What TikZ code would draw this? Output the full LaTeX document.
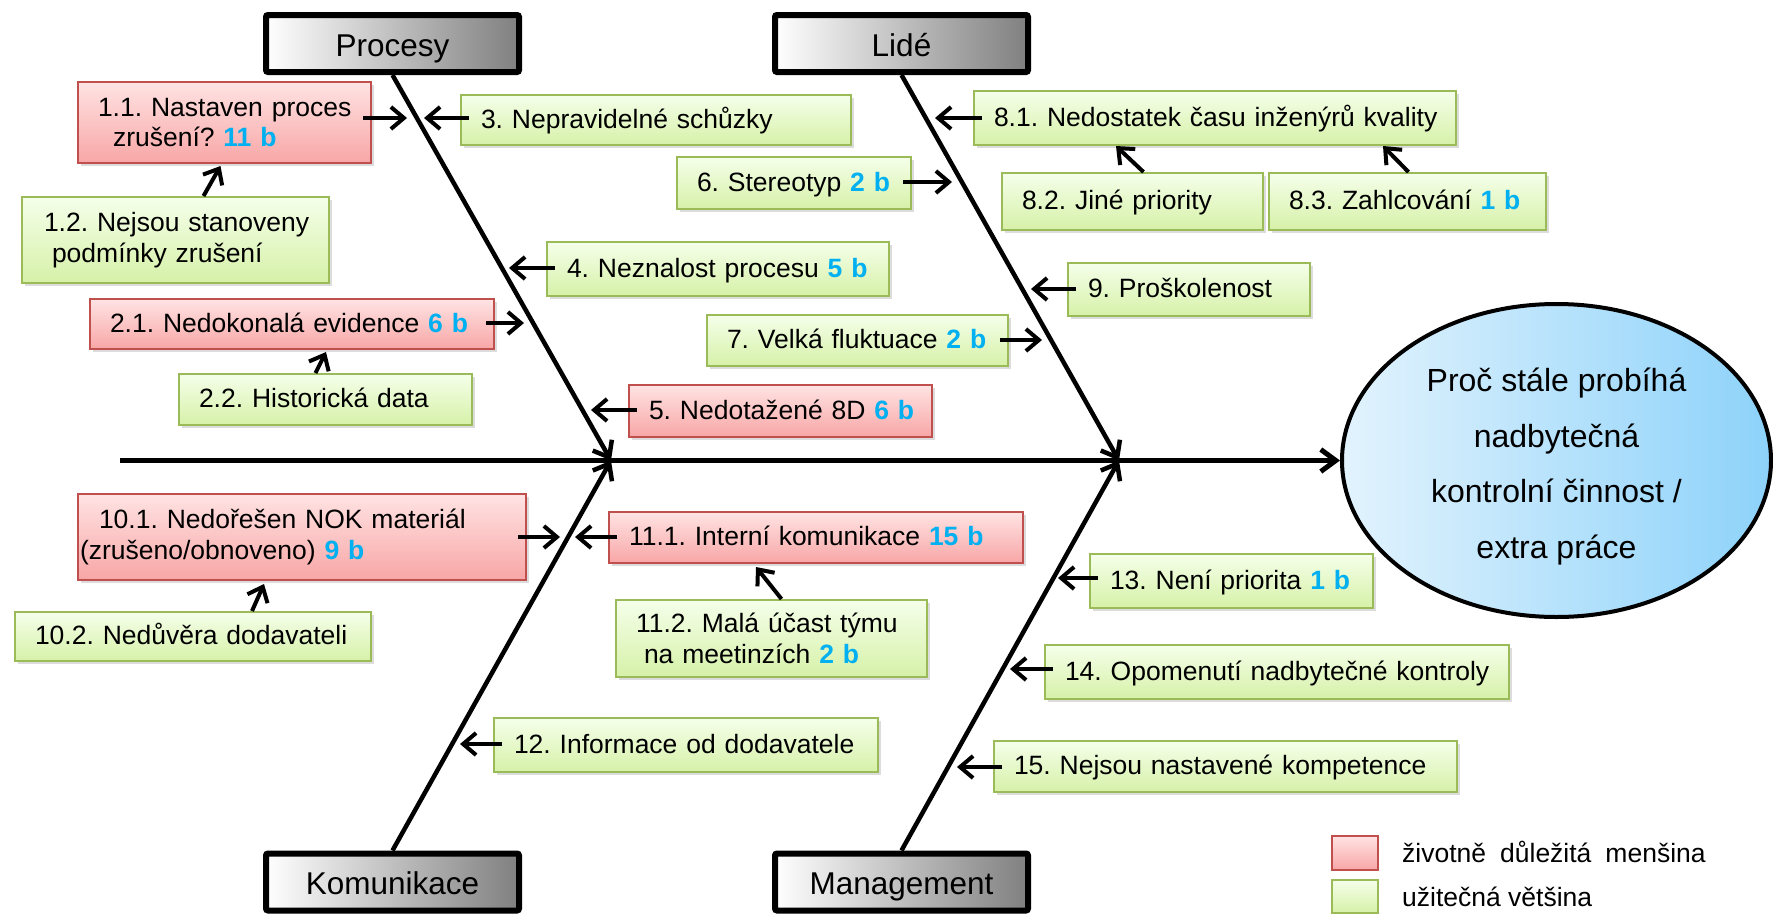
\documentclass[tikz,border=0pt]{standalone}
\usepackage{fontspec}
\setmainfont{Liberation Sans}
\usetikzlibrary{arrows.meta,shapes.geometric,shadows,calc}

\definecolor{redtop}{HTML}{FFE3E3}
\definecolor{redbot}{HTML}{F8A6A6}
\definecolor{redline}{HTML}{C0504D}
\definecolor{grntop}{HTML}{F5FFEA}
\definecolor{grnbot}{HTML}{D6F1A8}
\definecolor{grnline}{HTML}{9BBB59}
\definecolor{ptblue}{HTML}{00B0F0}
\definecolor{goalleft}{HTML}{E2F3FD}
\definecolor{goalright}{HTML}{8DD2FA}

\newcommand{\scorepts}[1]{\textcolor{ptblue}{\textbf{#1}}}
\newcommand{\causefont}{\fontsize{26.5}{30.5}\selectfont}
\frenchspacing

\begin{document}
\begin{tikzpicture}[x=1pt,y=-1pt,
  redfill/.style={draw=redline, top color=redtop, bottom color=redbot},
  greenfill/.style={draw=grnline, top color=grntop, bottom color=grnbot},
  cause/.style={anchor=north west, line width=2, inner xsep=20, inner ysep=0,
    align=left, font=\causefont,
    drop shadow={shadow xshift=2.5pt, shadow yshift=-3pt, opacity=.28}},
  oneline/.style={text height=16pt, text depth=0pt},
  critical/.style={cause, redfill},
  useful/.style={cause, greenfill},
  category/.style={draw=black, line width=6, rounded corners=2,
    left color=white, right color=black!50, minimum width=253, minimum height=57,
    inner sep=0, text height=25.5pt, text depth=0pt, font=\fontsize{31.5}{36}\selectfont,
    drop shadow={shadow xshift=2pt, shadow yshift=-2pt, opacity=.25}},
  goal/.style={ellipse, draw=black, line width=4, minimum width=429, minimum height=313,
    inner sep=0, left color=goalleft, right color=goalright},
  goaltext/.style={inner sep=0, align=center, font=\fontsize{32}{55.7}\selectfont},
  spine/.style={line width=5, -{Straight Barb[length=15pt,width=22pt]}},
  bone/.style={line width=4.5, -{Straight Barb[length=14pt,width=22pt]}},
  arr/.style={line width=4, -{Straight Barb[length=13pt,width=22pt]}},
  legendkey/.style={anchor=north west, line width=2, minimum width=46, minimum height=34, inner sep=0},
  legendtext/.style={anchor=west, inner sep=0, font=\causefont},
]
\useasboundingbox (0,0) rectangle (1773,916);

% categories
\node[category] (procesy) at (392.5,43.5) {Procesy};
\node[category] (lide) at (901.5,43.5) {Lidé};
\node[category] (komunikace) at (392.5,882) {Komunikace};
\node[category] (management) at (901.5,882) {Management};

% effect
\node[goal] (goal) at (1556.5,460.5) {};
\node[goaltext] (goaltxt) at ([yshift=-6pt]goal.center)
  {Proč stále probíhá\\nadbytečná\\kontrolní činnost /\\extra práce};

% spine and bones
\coordinate (tail) at (120,460.5);
\coordinate (j1) at (611,460.5);
\coordinate (j2) at (1119,460.5);
\draw[spine] (tail) -- (goal.west);
\draw[bone] (procesy.south) -- (j1);
\draw[bone] (lide.south) -- (j2);
\draw[bone] (komunikace.north) -- (j1);
\draw[bone] (management.north) -- (j2);

% causes: Procesy
\node[critical, minimum height=81, text width=253] (n11) at (77,81)
  {\mbox{1.1. Nastaven proces}\\\mbox{\hspace*{15pt}zrušení? \scorepts{11 b}}};
\node[useful, minimum height=86, text width=267] (n12) at (21,196)
  {\mbox{\hspace*{2pt}1.2. Nejsou stanoveny}\\\mbox{\hspace*{10pt}podmínky zrušení}};
\node[useful, oneline, minimum height=50, text width=350] (n3) at (460,94)
  {\mbox{3. Nepravidelné schůzky}};
\node[useful, oneline, minimum height=54, text width=302] (n4) at (546,241)
  {\mbox{4. Neznalost procesu \scorepts{5 b}}};
\node[critical, oneline, minimum height=50, text width=364] (n21) at (89,298)
  {\mbox{2.1. Nedokonalá evidence \scorepts{6 b}}};
\node[useful, oneline, minimum height=51, text width=253] (n22) at (178,373)
  {\mbox{2.2. Historická data}};
\node[critical, oneline, minimum height=52, text width=263] (n5) at (628,384)
  {\mbox{5. Nedotažené 8D \scorepts{6 b}}};

% causes: Lidé
\node[useful, oneline, minimum height=52, text width=194] (n6) at (676,156)
  {\mbox{6. Stereotyp \scorepts{2 b}}};
\node[useful, oneline, minimum height=51, text width=261] (n7) at (706,314)
  {\mbox{7. Velká fluktuace \scorepts{2 b}}};
\node[useful, oneline, minimum height=54, text width=442] (n81) at (973,90)
  {\mbox{8.1. Nedostatek času inženýrů kvality}};
\node[useful, oneline, minimum height=57, text width=221] (n82) at (1001,172)
  {\mbox{8.2. Jiné priority}};
\node[useful, oneline, minimum height=57, text width=237] (n83) at (1268,172)
  {\mbox{8.3. Zahlcování \scorepts{1 b}}};
\node[useful, oneline, minimum height=53, text width=202] (n9) at (1067,262)
  {\mbox{9. Proškolenost}};

% causes: Komunikace
\node[critical, minimum height=86, inner xsep=2, text width=444] (n101) at (77,493)
  {\mbox{\hspace*{19pt}10.1. Nedořešen NOK materiál}\\\mbox{(zrušeno/obnoveno) \scorepts{9 b}}};
\node[useful, oneline, minimum height=49, text width=316] (n102) at (14,611)
  {\mbox{10.2. Nedůvěra dodavateli}};
\node[critical, oneline, minimum height=51, text width=374] (n111) at (608,511)
  {\mbox{11.1. Interní komunikace \scorepts{15 b}}};
\node[useful, minimum height=77, text width=271] (n112) at (615,599)
  {\mbox{11.2. Malá účast týmu}\\\mbox{\hspace*{8pt}na meetinzích \scorepts{2 b}}};
\node[useful, oneline, minimum height=54, text width=344] (n12b) at (493,717)
  {\mbox{12. Informace od dodavatele}};

% causes: Management
\node[useful, oneline, minimum height=54, text width=243] (n13) at (1089,553)
  {\mbox{13. Není priorita \scorepts{1 b}}};
\node[useful, oneline, minimum height=54, text width=424] (n14) at (1044,644)
  {\mbox{14. Opomenutí nadbytečné kontroly}};
\node[useful, oneline, minimum height=51, text width=423] (n15) at (993,740)
  {\mbox{15. Nejsou nastavené kompetence}};

% arrow tips on the bones
\coordinate (t11) at (407,118);
\coordinate (t3) at (424,118);
\coordinate (t4) at (509,268);
\coordinate (t21) at (524,323);
\coordinate (t5) at (591,410);
\coordinate (t6) at (952,182);
\coordinate (t81) at (935,118);
\coordinate (t9) at (1031,289);
\coordinate (t7) at (1042,340);
\coordinate (t101) at (560,537);
\coordinate (t111) at (575,537);
\coordinate (t12) at (460,744);
\coordinate (t13) at (1058,578);
\coordinate (t14) at (1010,669);
\coordinate (t15) at (957,767);

\draw[arr] ($(n11.east|-t11)+(-9,0)$) -- (t11);
\draw[arr] ($(n3.west|-t3)+(9,0)$) -- (t3);
\draw[arr] ($(n4.west|-t4)+(9,0)$) -- (t4);
\draw[arr] ($(n21.east|-t21)+(-9,0)$) -- (t21);
\draw[arr] ($(n5.west|-t5)+(9,0)$) -- (t5);
\draw[arr] ($(n6.east|-t6)+(-9,0)$) -- (t6);
\draw[arr] ($(n81.west|-t81)+(9,0)$) -- (t81);
\draw[arr] ($(n9.west|-t9)+(9,0)$) -- (t9);
\draw[arr] ($(n7.east|-t7)+(-9,0)$) -- (t7);
\draw[arr] ($(n101.east|-t101)+(-9,0)$) -- (t101);
\draw[arr] ($(n111.west|-t111)+(9,0)$) -- (t111);
\draw[arr] ($(n12b.west|-t12)+(9,0)$) -- (t12);
\draw[arr] ($(n13.west|-t13)+(9,0)$) -- (t13);
\draw[arr] ($(n14.west|-t14)+(9,0)$) -- (t14);
\draw[arr] ($(n15.west|-t15)+(9,0)$) -- (t15);

% sub-causes
\draw[arr] ([xshift=28pt]n12.north) -- ([xshift=-4pt,yshift=-2pt]n11.south);
\draw[arr] ([xshift=-10pt]n22.north) -- ([xshift=34pt,yshift=-2pt]n21.south);
\draw[arr] ([xshift=11pt]n82.north) -- ([xshift=-99pt]n81.south);
\draw[arr] ([xshift=1pt]n83.north) -- ([xshift=168pt]n81.south);
\draw[arr] ([xshift=59pt]n102.north) -- ([xshift=-38pt,yshift=-3pt]n101.south);
\draw[arr] ([xshift=10pt]n112.north) -- ([xshift=-60pt,yshift=-3pt]n111.south);

% legend
\node[legendkey, redfill] (keyred) at (1331,835) {};
\node[legendkey, greenfill, minimum height=33] (keygreen) at (1331,879) {};
\node[legendtext] (lred) at (1402,852) {životně\hspace{14pt}důležitá\hspace{14pt}menšina};
\node[legendtext] (lgreen) at (1402,897) {užitečná většina};
\end{tikzpicture}
\end{document}
